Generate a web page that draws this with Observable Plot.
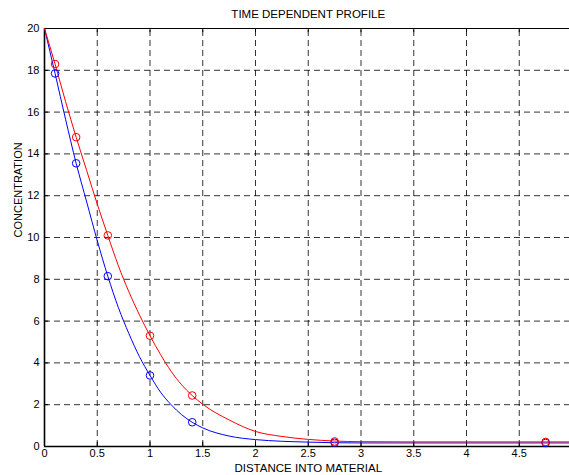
<!DOCTYPE html>
<html>
<head>
<meta charset="utf-8">
<script src="https://cdn.jsdelivr.net/npm/d3@7"></script>
<script src="https://cdn.jsdelivr.net/npm/@observablehq/plot@0.6"></script>
<style>
  html, body { margin: 0; padding: 0; background: #fff; }
</style>
</head>
<body>
<div id="chart"></div>
<script>
// Curve sample points
const xs = [0, 0.1, 0.2, 0.3, 0.4, 0.5, 0.6, 0.7, 0.8, 0.9, 1.0, 1.1, 1.2, 1.3, 1.4, 1.5, 1.75, 2.0, 2.25, 2.5, 2.75, 3.0, 3.5, 4.0, 4.5, 5.0];
const blueVals = [20, 17.85, 15.65, 13.55, 11.7, 9.85, 8.15, 6.65, 5.4, 4.3, 3.4, 2.6, 2.0, 1.52, 1.16, 0.89, 0.5, 0.33, 0.25, 0.21, 0.18, 0.17, 0.17, 0.17, 0.17, 0.17];
const redVals  = [20, 18.3, 16.5, 14.8, 13.2, 11.6, 10.1, 8.65, 7.4, 6.3, 5.3, 4.4, 3.6, 2.95, 2.44, 2.02, 1.27, 0.72, 0.48, 0.34, 0.26, 0.23, 0.22, 0.22, 0.22, 0.22];

// Marker points
const markX = [0.1, 0.3, 0.6, 1.0, 1.4, 2.75, 4.75];
const blueMarks = [17.85, 13.55, 8.15, 3.4, 1.16, 0.18, 0.17];
const redMarks  = [18.3, 14.8, 10.1, 5.3, 2.44, 0.24, 0.22];

// Ticks
const xTicks = [0, 0.5, 1, 1.5, 2, 2.5, 3, 3.5, 4, 4.5];
const yTicks = [0, 2, 4, 6, 8, 10, 12, 14, 16, 18, 20];
const xTickLabels = ["0", "0.5", "1", "1.5", "2", "2.5", "3", "3.5", "4", "4.5"];

const title = "TIME DEPENDENT PROFILE";
const xLabel = "DISTANCE INTO MATERIAL";
const yLabel = "CONCENTRATION";

const blueLine = xs.map((x, i) => ({x, y: blueVals[i]}));
const redLine = xs.map((x, i) => ({x, y: redVals[i]}));
const blueDots = markX.map((x, i) => ({x, y: blueMarks[i]}));
const redDots = markX.map((x, i) => ({x, y: redMarks[i]}));

const gridX = xTicks.filter(d => d > 0);
const gridY = yTicks.filter(d => d > 0 && d < 20);

const chart = Plot.plot({
  width: 569,
  height: 475,
  marginLeft: 44,
  marginRight: 0,
  marginTop: 28,
  marginBottom: 29,
  style: {fontFamily: "'Liberation Sans', Arial, sans-serif", fontSize: "11px", background: "#fff", color: "#000"},
  x: {domain: [0, 5], range: [44, 571.5]},
  y: {domain: [0, 20], range: [446, 28]},
  marks: [
    // grid
    Plot.ruleX(gridX, {x: d => d, y1: 0, y2: 20, stroke: "#000", strokeOpacity: 0.8, strokeWidth: 1, strokeDasharray: "6,4"}),
    Plot.ruleY(gridY, {y: d => d, x1: 0, x2: 5, stroke: "#000", strokeOpacity: 0.8, strokeWidth: 1, strokeDasharray: "6,4"}),
    // inward ticks
    Plot.ruleX(xTicks, {x: d => d, y1: 0, y2: 0.2, stroke: "#000"}),
    Plot.ruleX(xTicks, {x: d => d, y1: 20, y2: 19.8, stroke: "#000"}),
    Plot.ruleY(yTicks, {y: d => d, x1: 0, x2: 0.04, stroke: "#000"}),
    // frame
    Plot.ruleY([20], {x1: 0, x2: 5, stroke: "#000", strokeWidth: 1}),
    Plot.ruleY([0], {x1: 0, x2: 5, stroke: "#000", strokeWidth: 1.6}),
    Plot.ruleX([0], {y1: 0, y2: 20, stroke: "#000", strokeWidth: 1.6}),
    // tick labels
    Plot.axisX(xTicks, {tickSize: 0, tickPadding: 3, label: null, tickFormat: (d, i) => xTickLabels[i], fontSize: 11}),
    Plot.axisY(yTicks, {tickSize: 0, tickPadding: 5, label: null, tickFormat: d => String(d), fontSize: 11}),
    // curves
    Plot.line(blueLine, {x: "x", y: "y", stroke: "#0000ff", strokeWidth: 1, curve: "monotone-x"}),
    Plot.line(redLine, {x: "x", y: "y", stroke: "#ff0000", strokeWidth: 1, curve: "monotone-x"}),
    Plot.dot(blueDots, {x: "x", y: "y", r: 3.8, stroke: "#0000ff", strokeWidth: 1, fill: "none"}),
    Plot.dot(redDots, {x: "x", y: "y", r: 3.8, stroke: "#ff0000", strokeWidth: 1, fill: "none"}),
    // labels
    Plot.text([title], {x: () => 2.5, frameAnchor: "top", lineAnchor: "middle", dy: -14, text: d => d, fontSize: 11.5, fill: "#000"}),
    Plot.text([xLabel], {x: () => 2.5, frameAnchor: "bottom", lineAnchor: "middle", dy: 22, text: d => d, fontSize: 11.5, fill: "#000"}),
    Plot.text([yLabel], {frameAnchor: "left", dx: -26, rotate: -90, text: d => d, fontSize: 11, fill: "#000"})
  ]
});
document.getElementById("chart").appendChild(chart);
</script>
</body>
</html>
